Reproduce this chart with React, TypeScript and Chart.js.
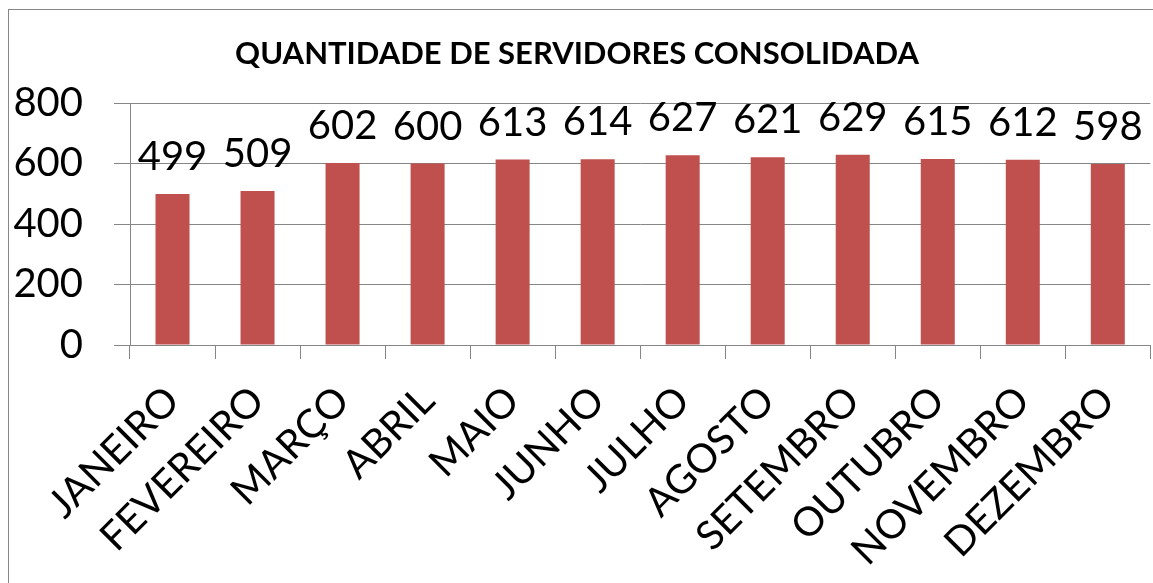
import React, { useEffect, useRef } from "react";
import { Chart, registerables } from "chart.js";

Chart.register(...registerables);

const TITLE = "QUANTIDADE DE SERVIDORES CONSOLIDADA";
const MONTHS = [
  "JANEIRO",
  "FEVEREIRO",
  "MARÇO",
  "ABRIL",
  "MAIO",
  "JUNHO",
  "JULHO",
  "AGOSTO",
  "SETEMBRO",
  "OUTUBRO",
  "NOVEMBRO",
  "DEZEMBRO",
];
const SERVERS = [499, 509, 602, 600, 613, 614, 627, 621, 629, 615, 612, 598];
const Y_MIN = 0;
const Y_MAX = 800;
const Y_STEP = 200;

const FONT = "Lato, 'Open Sans', sans-serif";
const GRID = "#868686";
const BAR = "#C0504D";

const valueLabels = {
  id: "valueLabels",
  afterDatasetsDraw(chart: any) {
    const ctx = chart.ctx;
    const meta = chart.getDatasetMeta(0);
    ctx.save();
    ctx.font = `40px ${FONT}`;
    ctx.fillStyle = "#000";
    ctx.textAlign = "center";
    ctx.textBaseline = "alphabetic";
    meta.data.forEach((el: any, i: number) => {
      ctx.fillText(String(SERVERS[i]), el.x, el.y - 24);
    });
    ctx.restore();
  },
};

export default function App() {
  const ref = useRef<HTMLCanvasElement | null>(null);

  useEffect(() => {
    if (!ref.current) return;
    const chart = new Chart(ref.current, {
      type: "bar",
      data: {
        labels: MONTHS,
        datasets: [
          {
            data: SERVERS,
            backgroundColor: BAR,
            borderWidth: 0,
            barPercentage: 0.4,
            categoryPercentage: 1,
          },
        ],
      },
      options: {
        animation: false,
        responsive: false,
        devicePixelRatio: 1,
        layout: { padding: { left: 0, right: 6, top: 0, bottom: 0 } },
        plugins: {
          legend: { display: false },
          tooltip: { enabled: false },
          title: {
            display: true,
            text: TITLE,
            color: "#000",
            font: { family: FONT, size: 31, weight: "bold", lineHeight: 1.2 },
            padding: { top: 35, bottom: 30.8 },
          },
        },
        scales: {
          x: {
            afterFit: (s: any) => {
              s.height = 238;
            },
            grid: {
              display: true,
              drawOnChartArea: false,
              drawTicks: true,
              tickLength: 14,
              color: GRID,
              offset: true,
            },
            border: { display: true, color: GRID },
            ticks: {
              color: "#000",
              font: { family: FONT, size: 40 },
              maxRotation: 45,
              minRotation: 45,
              autoSkip: false,
              padding: 18,
            },
          },
          y: {
            min: Y_MIN,
            max: Y_MAX,
            afterFit: (s: any) => {
              s.width = 130;
            },
            grid: { color: GRID, tickLength: 16 },
            border: { display: true, color: GRID },
            ticks: {
              stepSize: Y_STEP,
              color: "#000",
              font: { family: FONT, size: 40 },
              padding: 31,
            },
          },
        },
      },
      plugins: [valueLabels],
    });
    return () => chart.destroy();
  }, []);

  return (
    <div
      style={{
        position: "fixed",
        left: 0,
        top: 0,
        width: 1153,
        height: 583,
        overflow: "hidden",
        background: "#fff",
      }}
    >
      <canvas
        ref={ref}
        width={1160}
        height={583}
        style={{ position: "absolute", left: 0, top: 0, width: 1160, height: 583 }}
      />
      <div
        style={{
          position: "absolute",
          left: 8,
          top: 9,
          width: 2000,
          height: 2000,
          border: `1px solid ${GRID}`,
          pointerEvents: "none",
        }}
      />
    </div>
  );
}
